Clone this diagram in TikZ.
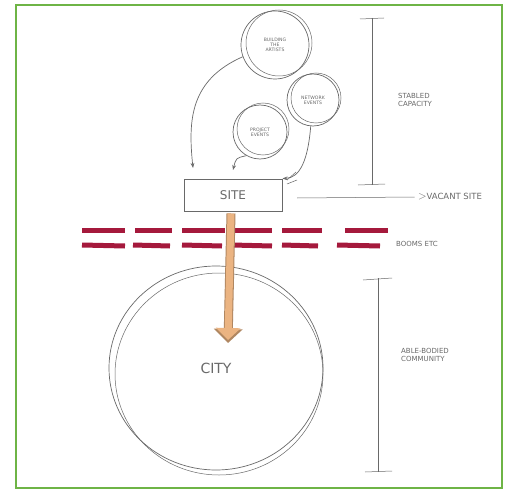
\documentclass[tikz,border=0pt]{standalone}
\usepackage{fontspec}
\setmainfont{DejaVu Sans}
\usetikzlibrary{arrows.meta,shapes.geometric}
\definecolor{frame}{RGB}{110,180,70}
\definecolor{pen}{RGB}{105,105,105}
\definecolor{dash}{RGB}{165,25,60}
\definecolor{tan}{RGB}{235,180,130}
\tikzset{
  sketch/.style={draw=pen, line width=0.7pt},
  bubble/.style={circle, draw=pen, line width=0.7pt, align=center, font=\fontsize{4.6}{5.2}\selectfont, text=pen},
  lbl/.style={font=\fontsize{7}{8.5}\selectfont, text=pen, align=left},
  bar/.style={draw=dash, line width=5pt},
  flow/.style={-{Stealth[length=5pt]}, draw=pen, line width=0.7pt}
}
\begin{document}
\begin{tikzpicture}[x=1pt,y=-1pt]
\useasboundingbox (0,0) rectangle (518,497);
\fill[white] (0,0) rectangle (518,497);
\draw[frame, line width=1.5pt] (16,5) rectangle (502,488);
% bubbles
\node[bubble, minimum size=68pt] (b1) at (275,45) {BUILDING\\THE\\ARTISTS};
\draw[pen, line width=0.5pt] (279,43) circle (33pt);
\node[bubble, minimum size=52pt] (b2) at (313,100) {NETWORK\\EVENTS};
\draw[pen, line width=0.5pt] (316,98) circle (25pt);
\node[bubble, minimum size=54pt] (b3) at (260,132) {PROJECT\\EVENTS};
\draw[pen, line width=0.5pt] (263,129) circle (26pt);
% site
\node[draw=pen, line width=1pt, minimum width=98pt, minimum height=32pt, font=\fontsize{12}{12}\selectfont, text=pen] (site) at (233,195) {SITE};
% arrows
\draw[flow] (b1.200) .. controls (190,80) and (188,120) .. (193,168);
\draw[flow] (b3.240) .. controls (236,158) .. (233,170);
\draw[flow] (b2.265) .. controls (308,160) and (300,178) .. (site.north east);
\draw[pen, line width=0.5pt] (287,180) -- (296,172) (287,184) -- (297,180);
% stabled capacity dimension
\coordinate (s1) at (372,18);
\coordinate (s2) at (372,185);
\draw[sketch, line width=0.5pt] (s1) -- (s2);
\draw[sketch, line width=0.5pt] (360,19) -- (384,18) (358,185) -- (385,184);
\node[lbl] (stab) at (415,100) {STABLED\\CAPACITY};
% vacant site
\coordinate (v1) at (297,198);
\node[lbl, font=\fontsize{8.5}{9}\selectfont] (vac) at (450,197) {{\fontsize{11}{11}\selectfont $>$}VACANT SITE};
\draw[sketch, line width=0.5pt] (v1) -- (vac.west);
% red bars
\foreach \a/\b in {82/125,135/172,182/225,232/272,282/322,345/388}
  \draw[bar] (\a,230) -- (\b,230);
\foreach \a/\b in {82/125,133/170,182/222,232/272,282/318,337/380}
  \draw[bar] (\a,245) -- (\b,246);
\node[lbl] (booms) at (417,244) {BOOMS ETC};
% city
\node[ellipse, draw=pen, line width=0.7pt, minimum width=214pt, minimum height=204pt, font=\fontsize{14}{14}\selectfont, text=pen] (city) at (216,368) {CITY};
\draw[pen, line width=0.5pt] (219,374) ellipse (104pt and 101pt);
% flow arrow
\draw[tan!75!black, line width=9pt, -{Triangle[length=14pt,width=28pt]}] (site.south) ++(-2,2) -- (228,343);
\draw[tan, line width=7pt, -{Triangle[length=12pt,width=24pt]}] (site.south) ++(-2,2) -- (228,340);
% community dimension
\coordinate (c1) at (378,278);
\coordinate (c2) at (378,472);
\draw[sketch, line width=0.5pt] (c1) -- (c2);
\draw[sketch, line width=0.5pt] (363,280) -- (392,278) (365,472) -- (392,471);
\node[lbl] (able) at (425,355) {ABLE-BODIED\\COMMUNITY};
\end{tikzpicture}
\end{document}
